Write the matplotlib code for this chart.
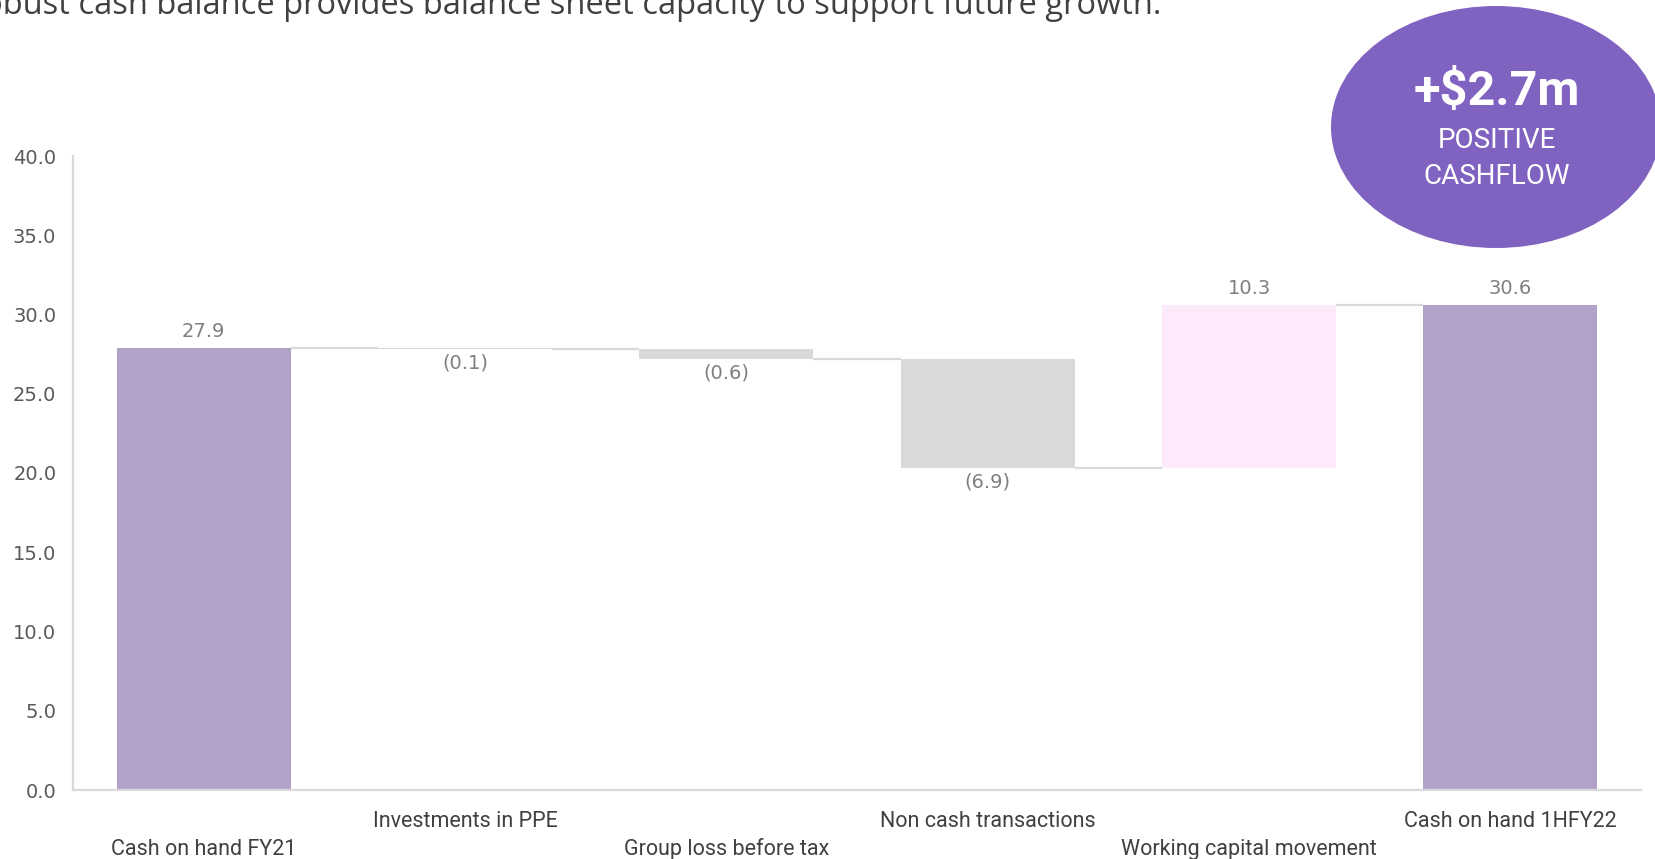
import matplotlib

matplotlib.use("Agg")
import matplotlib.pyplot as plt
from matplotlib.patches import Ellipse
import numpy as np

# Cash bridge, $m
categories = [
    "Cash on hand FY21",
    "Investments in PPE",
    "Group loss before tax",
    "Non cash transactions",
    "Working capital movement",
    "Cash on hand 1HFY22",
]
values = [27.9, -0.1, -0.6, -6.9, 10.3, 30.6]
is_total = [True, False, False, False, False, True]
y_ticks = [0, 5, 10, 15, 20, 25, 30, 35, 40]

headline = "Robust cash balance provides balance sheet capacity to support future growth."
badge_value = "+$2.7m"
badge_text = ["POSITIVE", "CASHFLOW"]

TOTAL_COLOR = "#B3A2C7"
DOWN_COLOR = "#D9D9D9"
UP_COLOR = "#FCE9FC"
LINE_COLOR = "#D9D9D9"
TEXT_COLOR = "#7F7F7F"
BADGE_COLOR = "#8062C1"
NUM_FONT = "DejaVu Sans"
LABEL_FONT = "Roboto"

W, H = 1655, 859
fig = plt.figure(figsize=(W / 100, H / 100), dpi=100)
ax = fig.add_axes([73 / W, 1 - 790 / H, (1641 - 73) / W, (790 - 156) / H])

# running level for the waterfall
bottoms, heights, levels = [], [], []
level = 0.0
for value, total in zip(values, is_total):
    if total:
        bottoms.append(0.0)
        heights.append(value)
        level = value
    else:
        bottoms.append(level + min(value, 0))
        heights.append(abs(value))
        level += value
    levels.append(level)

x = np.arange(len(categories))
colors = [
    TOTAL_COLOR if t else (DOWN_COLOR if v < 0 else UP_COLOR)
    for v, t in zip(values, is_total)
]
width = 0.665
ax.bar(x, heights, bottom=bottoms, width=width, color=colors, linewidth=0, zorder=2)

# connectors between neighbouring bars
for i in range(len(x) - 1):
    ax.plot(
        [x[i] + width / 2, x[i + 1] - width / 2],
        [levels[i], levels[i]],
        color=LINE_COLOR,
        linewidth=1.6,
        zorder=1,
        solid_capstyle="butt",
    )

for i, (value, total) in enumerate(zip(values, is_total)):
    top = bottoms[i] + heights[i]
    if total or value >= 0:
        ax.annotate(
            f"{abs(value):.1f}",
            (x[i], top),
            xytext=(0, 12),
            textcoords="offset points",
            ha="center",
            va="center",
            fontsize=14,
            color=TEXT_COLOR,
            family=NUM_FONT,
        )
    else:
        ax.annotate(
            f"({abs(value):.1f})",
            (x[i], bottoms[i]),
            xytext=(0, -10),
            textcoords="offset points",
            ha="center",
            va="center",
            fontsize=14,
            color=TEXT_COLOR,
            family=NUM_FONT,
        )

# staggered category labels
for i, name in enumerate(categories):
    offset = -22.5 if i % 2 else -42.5
    ax.annotate(
        name,
        (x[i], 0),
        xycoords=("data", "axes fraction"),
        xytext=(0, offset),
        textcoords="offset points",
        ha="center",
        va="center",
        fontsize=15.5,
        color="#404040",
        family=LABEL_FONT,
    )

ax.set_xlim(-0.5, len(categories) - 0.5)
ax.set_ylim(0, 40)
ax.set_yticks(y_ticks)
ax.set_yticklabels([f"{t:.1f}" for t in y_ticks], family=NUM_FONT, fontsize=14, color="#595959")
ax.set_xticks([])
ax.tick_params(axis="y", length=0, pad=12)
for side in ("top", "right"):
    ax.spines[side].set_visible(False)
for side in ("left", "bottom"):
    ax.spines[side].set_color(LINE_COLOR)
    ax.spines[side].set_linewidth(1.6)

# overlay in pixel space for the headline and the badge
over = fig.add_axes([0, 0, 1, 1], zorder=5)
over.set_xlim(0, W)
over.set_ylim(H, 0)
over.axis("off")
over.patch.set_alpha(0)

over.text(
    1161, 14, headline, ha="right", va="baseline",
    fontsize=23.5, color="#404040", family="Open Sans",
)
over.add_patch(Ellipse((1496, 127), 330, 242, color=BADGE_COLOR, linewidth=0))
over.text(1497, 92, badge_value, ha="center", va="center", fontsize=35,
          fontweight="bold", color="white", family="Roboto")
for line, yy in zip(badge_text, (141, 176)):
    over.text(1497, yy, line, ha="center", va="center", fontsize=20,
              color="white", family="Roboto")

fig.savefig("out.png", dpi=100)
